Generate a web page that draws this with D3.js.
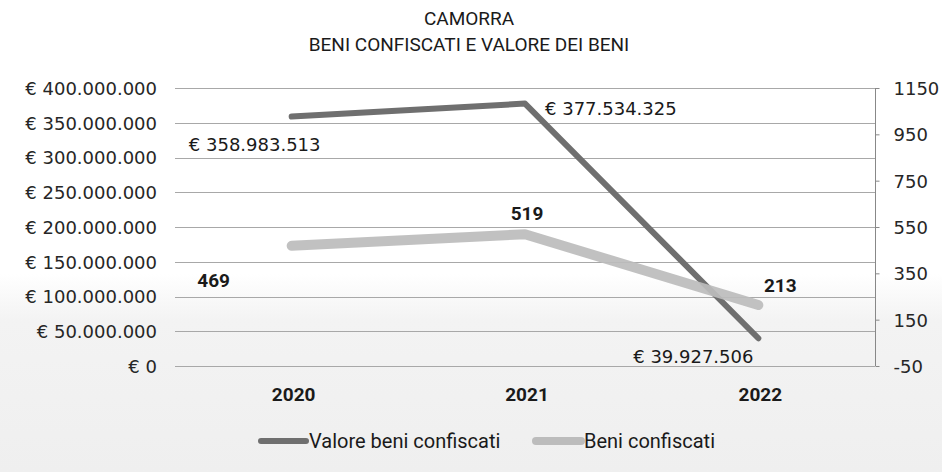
<!DOCTYPE html>
<html lang="it">
<head>
  <meta charset="UTF-8">
  <title>Camorra - beni confiscati</title>
  <script src="https://d3js.org/d3.v7.min.js"></script>
  <style>
    body { margin: 0; background: #fff; }
    .tick-label { font-family: "DejaVu Sans", sans-serif; font-size: 18px; fill: #262626; }
    .val-label { font-family: "DejaVu Sans", sans-serif; font-size: 18px; fill: #1a1a1a; }
    .cal { font-family: Roboto, "Noto Sans", sans-serif; fill: #1a1a1a; }
    .grid { stroke: #a8a8a8; stroke-width: 1px; }
  </style>
</head>
<body>
  <div id="chart"></div>
  <script>
    // dati
    const years = ["2020", "2021", "2022"];
    const valoreBeni = [358983513, 377534325, 39927506];
    const beniConfiscati = [469, 519, 213];
    const leftTicks = [0, 50000000, 100000000, 150000000, 200000000, 250000000, 300000000, 350000000, 400000000];
    const rightTicks = [-50, 150, 350, 550, 750, 950, 1150];
    const seriesNames = ["Valore beni confiscati", "Beni confiscati"];

    const width = 942, height = 472;
    const plot = { left: 175, right: 875, top: 88, bottom: 366 };

    const it = d3.formatLocale({
      decimal: ",", thousands: ".", grouping: [3], currency: ["€ ", ""]
    });
    const euro = it.format("$,.0f");

    const svg = d3.select("#chart").append("svg")
      .attr("width", width)
      .attr("height", height);

    // sfondo (leggera ombra della scansione in basso)
    const grad = svg.append("defs").append("linearGradient")
      .attr("id", "bg").attr("x1", 0).attr("y1", 0).attr("x2", 0).attr("y2", 1);
    grad.append("stop").attr("offset", "0.58").attr("stop-color", "#ffffff");
    grad.append("stop").attr("offset", "0.68").attr("stop-color", "#f3f3f3");
    grad.append("stop").attr("offset", "1").attr("stop-color", "#efefef");
    svg.append("rect").attr("width", width).attr("height", height).attr("fill", "url(#bg)");

    const x = d3.scaleBand().domain(years).range([plot.left, plot.right]);
    const yL = d3.scaleLinear().domain([0, 400000000]).range([plot.bottom, plot.top]);
    const yR = d3.scaleLinear().domain([-50, 1150]).range([plot.bottom, plot.top]);
    const cx = d => x(d) + x.bandwidth() / 2;

    // titolo
    const title = svg.append("text").attr("class", "cal")
      .attr("text-anchor", "middle").attr("font-size", 19);
    title.append("tspan").attr("x", 469).attr("y", 25).text("CAMORRA");
    title.append("tspan").attr("x", 469).attr("y", 51).text("BENI CONFISCATI E VALORE DEI BENI");

    // griglia
    svg.append("g").selectAll("line").data(leftTicks).join("line")
      .attr("class", "grid")
      .attr("x1", plot.left).attr("x2", plot.right)
      .attr("y1", d => Math.round(yL(d)) + 0.5)
      .attr("y2", d => Math.round(yL(d)) + 0.5);

    // asse sinistro
    const axL = svg.append("g")
      .attr("transform", `translate(${plot.left - 18},0)`)
      .call(d3.axisLeft(yL).tickValues(leftTicks).tickFormat(euro).tickSize(0).tickPadding(0));
    axL.select(".domain").remove();
    axL.selectAll("text").attr("class", "tick-label").attr("dy", "0.36em").attr("font-size", null).attr("font-family", null);

    // asse destro
    const axR = svg.append("g")
      .attr("transform", `translate(${plot.right + 0.5},0)`)
      .call(d3.axisRight(yR).tickValues(rightTicks).tickFormat(d => String(d)).tickSize(4).tickPadding(14));
    axR.select(".domain").attr("stroke", "#888").attr("d", `M0,${plot.top}V${plot.bottom}`);
    axR.selectAll("line").attr("stroke", "#888");
    axR.selectAll("text").attr("class", "tick-label").attr("dy", "0.36em").attr("font-size", null).attr("font-family", null);

    // etichette anni
    svg.append("g").selectAll("text").data(years).join("text")
      .attr("class", "cal")
      .attr("x", d => cx(d) + 2)
      .attr("y", 401)
      .attr("text-anchor", "middle")
      .attr("font-size", 19)
      .attr("font-weight", 700)
      .text(d => d);

    // linee
    const lineL = d3.line().x((d, i) => cx(years[i])).y(d => yL(d));
    const lineR = d3.line().x((d, i) => cx(years[i])).y(d => yR(d));

    svg.append("path").datum(valoreBeni)
      .attr("d", lineL)
      .attr("fill", "none").attr("stroke", "#6f6f6f").attr("stroke-width", 6)
      .attr("stroke-linecap", "round").attr("stroke-linejoin", "round");

    svg.append("path").datum(beniConfiscati)
      .attr("d", lineR)
      .attr("fill", "none").attr("stroke", "#bcbcbc").attr("stroke-width", 10)
      .attr("stroke-linecap", "round").attr("stroke-linejoin", "round")
      .attr("opacity", 0.92);

    // etichette valori (spostamenti come nel grafico originale)
    const valOffsets = [[-37, 34, "middle"], [20, 11, "start"], [-65, 25, "middle"]];
    svg.append("g").selectAll("text").data(valoreBeni).join("text")
      .attr("class", "val-label")
      .attr("x", (d, i) => cx(years[i]) + valOffsets[i][0])
      .attr("y", (d, i) => yL(d) + valOffsets[i][1])
      .attr("text-anchor", (d, i) => valOffsets[i][2])
      .text(d => euro(d));

    const beniOffsets = [[-78, 41], [2, -14], [22, -13]];
    svg.append("g").selectAll("text").data(beniConfiscati).join("text")
      .attr("class", "cal")
      .attr("x", (d, i) => cx(years[i]) + beniOffsets[i][0])
      .attr("y", (d, i) => yR(d) + beniOffsets[i][1])
      .attr("text-anchor", "middle")
      .attr("font-size", 19)
      .attr("font-weight", 700)
      .text(d => d);

    // legenda
    const legend = [
      { name: seriesNames[0], color: "#6f6f6f", w: 6, x: 258 },
      { name: seriesNames[1], color: "#bcbcbc", w: 8, x: 533 }
    ];
    const lg = svg.append("g").selectAll("g").data(legend).join("g")
      .attr("transform", d => `translate(${d.x},441)`);
    lg.append("line")
      .attr("x1", 3).attr("x2", 48)
      .attr("stroke", d => d.color).attr("stroke-width", d => d.w)
      .attr("stroke-linecap", "round");
    lg.append("text").attr("class", "cal")
      .attr("x", 51).attr("y", 7)
      .attr("font-size", 20)
      .text(d => d.name);
  </script>
</body>
</html>
